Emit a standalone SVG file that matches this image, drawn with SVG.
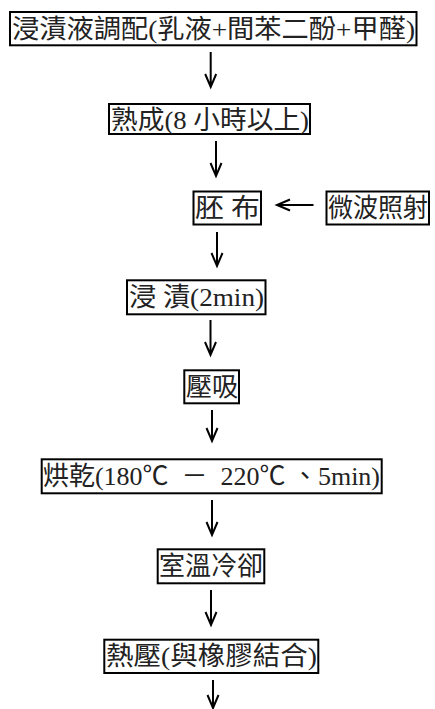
<svg xmlns="http://www.w3.org/2000/svg" width="435" height="709" viewBox="0 0 435 709">
<style>
.box{fill:#fff;stroke:#000;stroke-width:2}
.t{font-family:"Liberation Serif","Noto Sans CJK TC",serif;font-size:26px;fill:#222;white-space:pre}
.c{fill:none;stroke:#000;stroke-width:2;stroke-linecap:butt;stroke-linejoin:miter}
</style>
<rect width="435" height="709" fill="#fff"/>
<g id="connectors">
<path class="c" d="M210.7,52V87M205.2,74L210.7,87L216.2,74"/>
<path class="c" d="M216,141V176M210.5,163L216,176L221.5,163"/>
<path class="c" d="M217,232V266M211.5,253L217,266L222.5,253"/>
<path class="c" d="M210.5,320V355M205,342L210.5,355L216,342"/>
<path class="c" d="M212,410V441M206.5,428L212,441L217.5,428"/>
<path class="c" d="M212,500V535M206.5,522L212,535L217.5,522"/>
<path class="c" d="M211,590V625M205.5,612L211,625L216.5,612"/>
<path class="c" d="M213,680V708M207.5,695L213,708L218.5,695"/>
<path class="c" d="M313.5,205H277M290,199.5L277,205L290,210.5"/>
</g>
<g id="n1"><rect class="box" x="10" y="12" width="406.5" height="33.3"/>
<text class="t" x="12" y="38" textLength="403" lengthAdjust="spacingAndGlyphs">浸漬液調配(乳液+間苯二酚+甲醛)</text></g>
<g id="n2"><rect class="box" x="109" y="104" width="201" height="30"/>
<text class="t" x="111" y="129" textLength="198" lengthAdjust="spacingAndGlyphs">熟成(8 小時以上)</text></g>
<g id="n3"><rect class="box" x="193.5" y="191.5" width="67.5" height="33"/>
<text class="t" x="195" y="217" textLength="65" lengthAdjust="spacingAndGlyphs">胚 布</text></g>
<g id="n3b"><rect class="box" x="326.5" y="191.5" width="102.5" height="33"/>
<text class="t" x="328" y="217" textLength="100" lengthAdjust="spacingAndGlyphs">微波照射</text></g>
<g id="n4"><rect class="box" x="127" y="280.3" width="138.5" height="34"/>
<text class="t" x="129" y="306" textLength="135" lengthAdjust="spacingAndGlyphs">浸 漬(2min)</text></g>
<g id="n5"><rect class="box" x="184.3" y="370.3" width="54.7" height="33"/>
<text class="t" x="186" y="396" textLength="52" lengthAdjust="spacingAndGlyphs">壓吸</text></g>
<g id="n6"><rect class="box" x="41.7" y="459.3" width="340" height="34"/>
<text class="t" x="43" y="485" textLength="337" lengthAdjust="spacingAndGlyphs" xml:space="preserve">烘乾(180℃  －  220℃ 、5min)</text></g>
<g id="n7"><rect class="box" x="157.7" y="549.3" width="106.6" height="34"/>
<text class="t" x="159" y="575" textLength="104" lengthAdjust="spacingAndGlyphs">室溫冷卻</text></g>
<g id="n8"><rect class="box" x="104.3" y="639.7" width="214" height="33.3"/>
<text class="t" x="106" y="665" textLength="211" lengthAdjust="spacingAndGlyphs">熱壓(與橡膠結合)</text></g>
</svg>
